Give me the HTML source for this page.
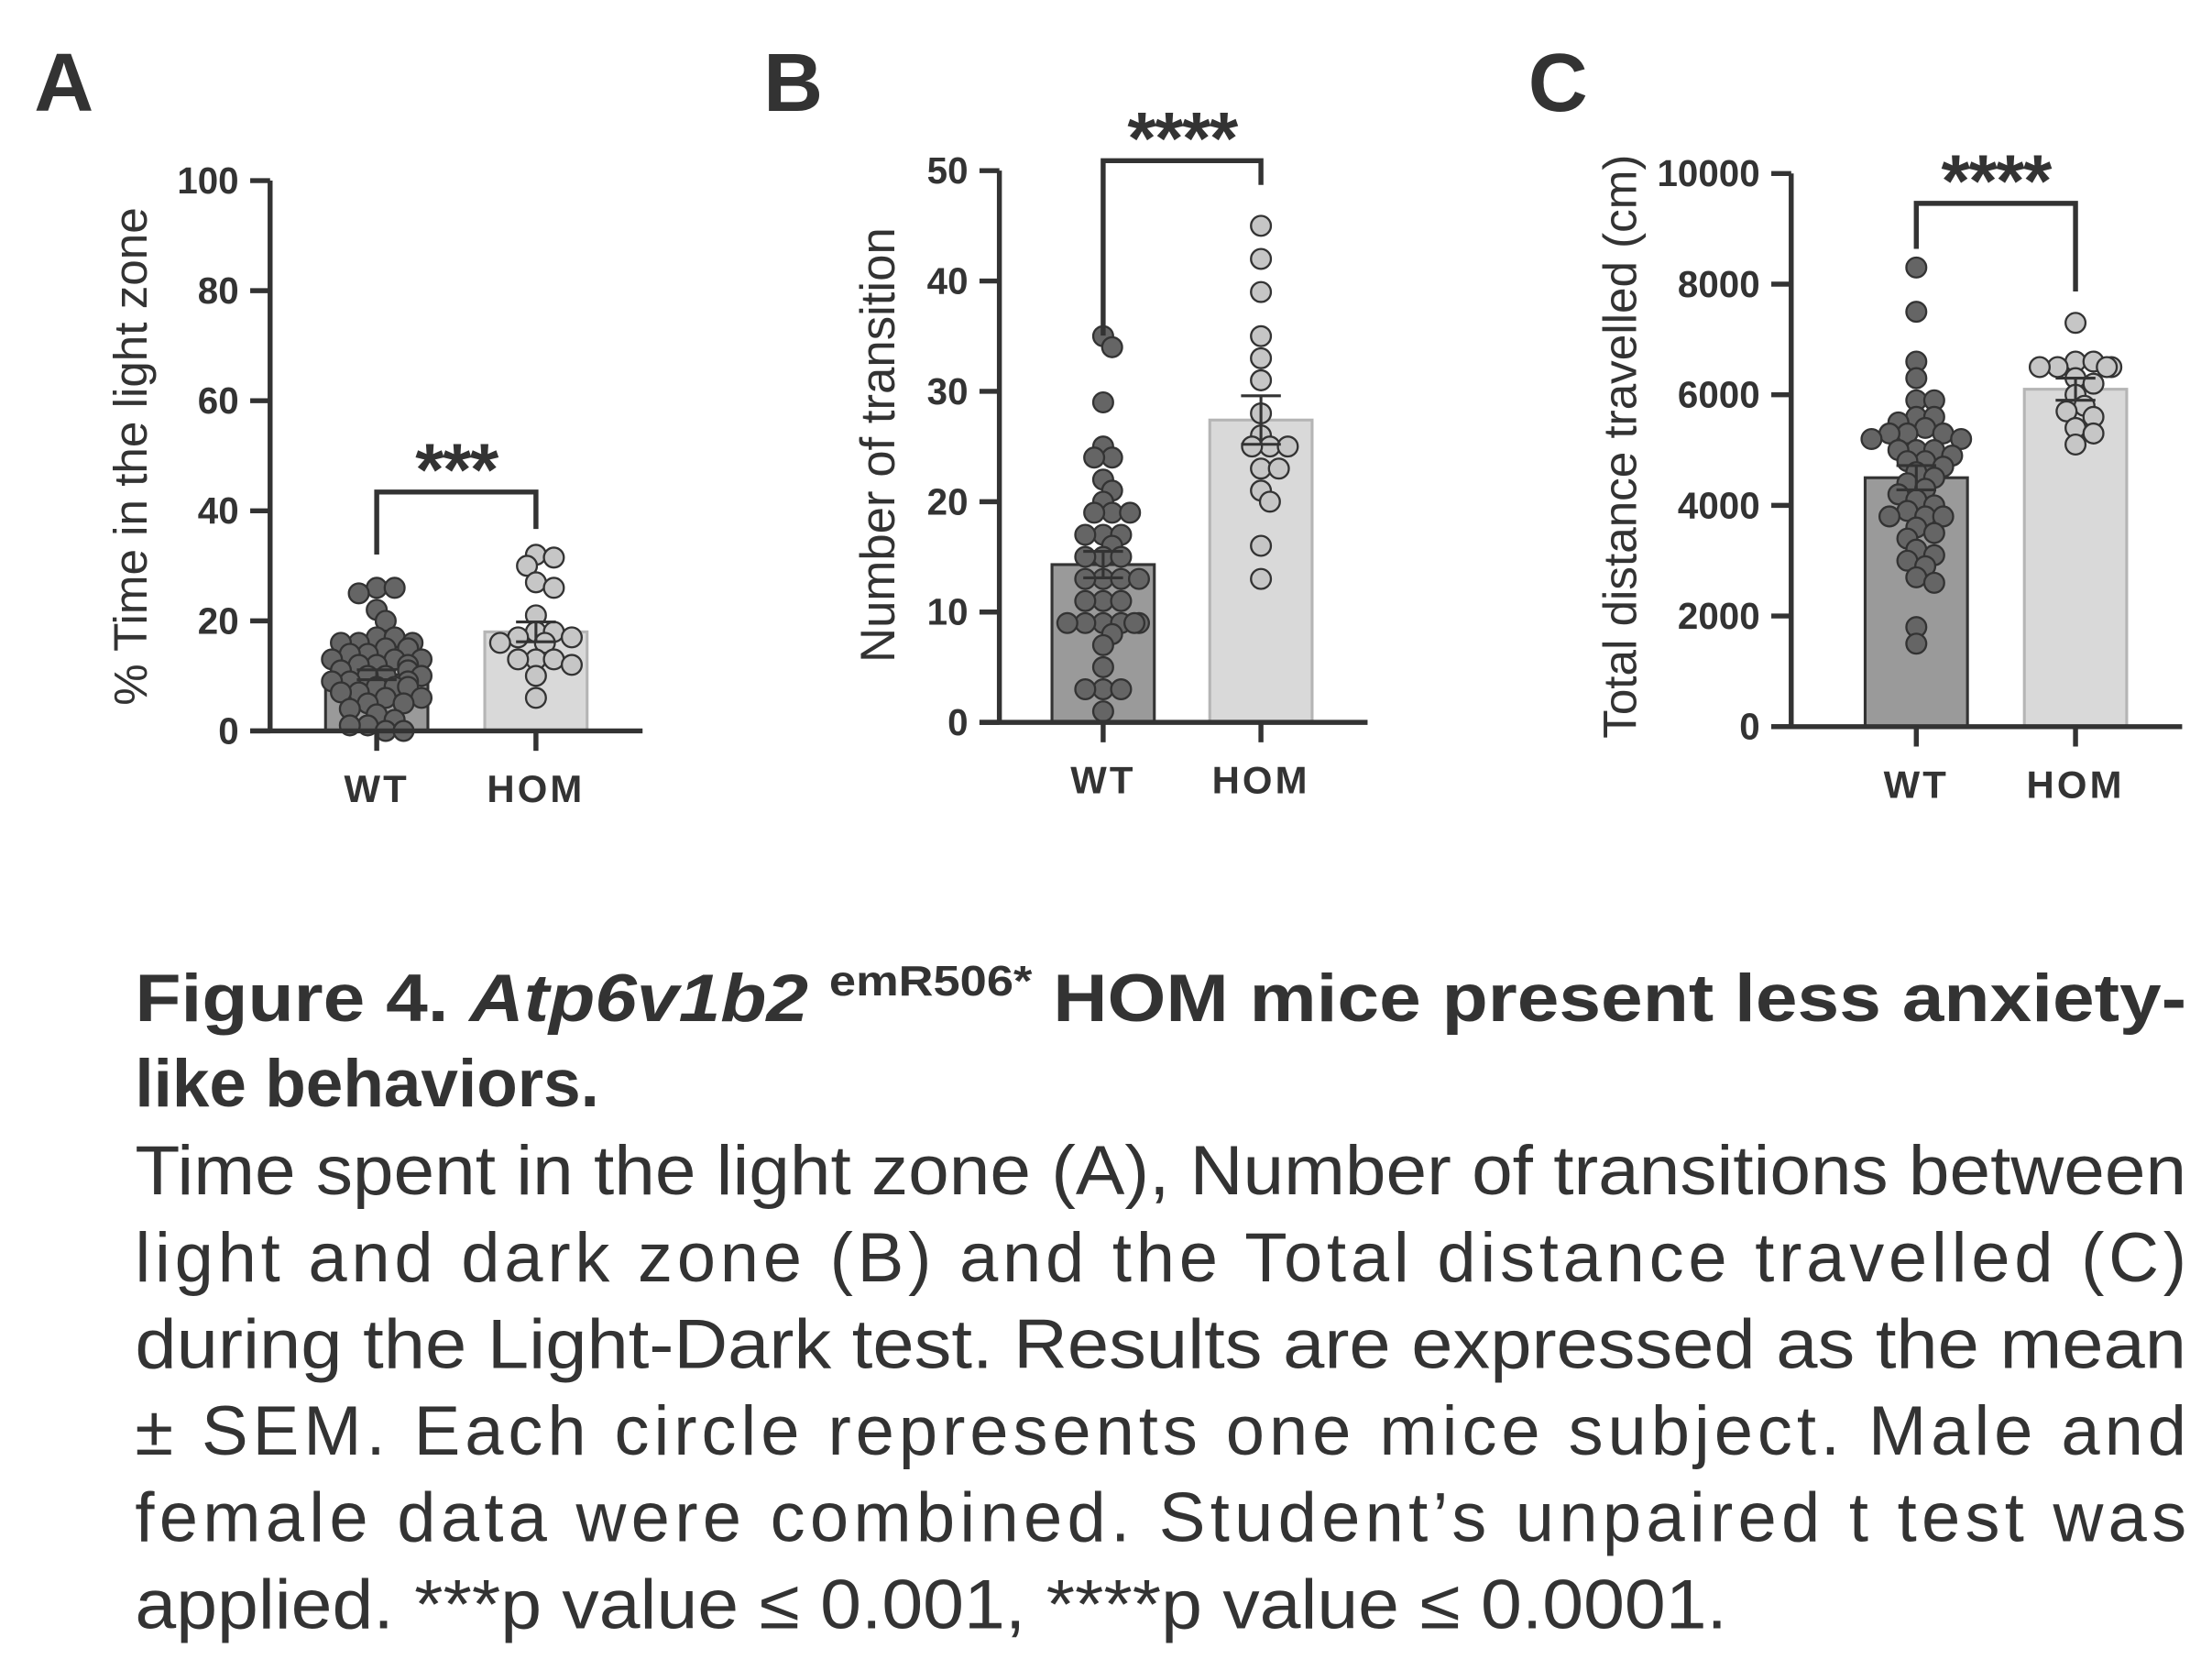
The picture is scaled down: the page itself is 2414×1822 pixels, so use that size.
<!DOCTYPE html>
<html><head><meta charset="utf-8"><style>
html,body{margin:0;padding:0;background:#fff}
svg{display:block}
text{font-family:"Liberation Sans",Arial,sans-serif;fill:#333}
</style></head><body>
<svg id="fig" width="2414" height="1822" viewBox="0 0 1556 1174.4" xmlns="http://www.w3.org/2000/svg">
<rect width="1556" height="1175" fill="#fff"/>
<g id="charts"></g>
<g>
<text x="95" y="718" font-size="47" font-weight="bold" textLength="1443" lengthAdjust="spacingAndGlyphs">Figure 4. <tspan font-style="italic">Atp6v1b2</tspan> <tspan font-size="30" dy="-18">emR506*</tspan><tspan dy="18"> HOM mice present less anxiety-</tspan></text>
<text x="95" y="778" font-size="47" font-weight="bold">like behaviors.</text>
<text x="95" y="840" font-size="49" textLength="1443" lengthAdjust="spacingAndGlyphs">Time spent in the light zone (A), Number of transitions between</text>
<text x="95" y="901" font-size="49" textLength="1443" lengthAdjust="spacing">light and dark zone (B) and the Total distance travelled (C)</text>
<text x="95" y="962" font-size="49" textLength="1443" lengthAdjust="spacingAndGlyphs">during the Light-Dark test. Results are expressed as the mean</text>
<text x="95" y="1023" font-size="49" textLength="1443" lengthAdjust="spacing">± SEM. Each circle represents one mice subject. Male and</text>
<text x="95" y="1084" font-size="49" textLength="1443" lengthAdjust="spacing">female data were combined. Student’s unpaired t test was</text>
<text x="95" y="1145" font-size="49" textLength="1120" lengthAdjust="spacingAndGlyphs">applied.  ***p value ≤ 0.001, ****p value ≤ 0.0001.</text>
</g>
</svg>
<script>
const groups = ["WT", "HOM"];
const aWT = [26,26,25,22,20,17,17,16,16,16,15,15,15,14,14,13,13,13,12,12,12,11,11,11,10,10,10,9,9,9,8,8,8,7,7,6,6,5,5,4,3,2,1,1,0,0];
const aHOM = [32,30,31.5,27,26,21,18,18,17,17,16,16,13,12,13,13,10,6];
const aMeans = [10.2, 18];
const aSEM = [0.9, 1.8];
const bWT = [35,34,29,25,24,24,22,21,20,19,19,19,17,17,17,16,15,15,15,13,13,13,13,11,11,11,9,9,9,9,9,9,8,7,5,3,3,3,1];
const bHOM = [45,42,39,35,33,31,28,26,25,25,25,23,23,21,20,16,13];
const bMeans = [14.3, 27.4];
const bSEM = [1.2, 2.2];
const cWT = [8300,7500,6600,6300,5900,5900,5600,5500,5600,5200,5300,5200,5300,5400,5000,4800,5000,4900,4700,4800,4600,4400,4300,4200,4100,3800,3800,3900,3800,3600,3500,3400,3200,3100,3000,2900,2700,2600,1800,1500,5300,5000,4500,4000];
const cHOM = [7300,6600,6500,6500,6600,6500,6500,6300,6200,6000,5800,5700,5600,5400,5300,5100];
const cMeans = [4500, 6100];
const cSEM = [220, 200];
const aTicks = ["0","20","40","60","80","100"];
const bTicks = ["0","10","20","30","40","50"];
const cTicks = ["0","2000","4000","6000","8000","10000"];

const NS = "http://www.w3.org/2000/svg";
const root = document.getElementById("charts");
function mk(tag, attrs, parent){const e=document.createElementNS(NS,tag);for(const k in attrs)e.setAttribute(k,attrs[k]);(parent||root).appendChild(e);return e;}

function panel(cfg){
  const g = mk("g",{});
  
  
  const max = +cfg.ticks[cfg.ticks.length-1];
  const y = v => cfg.y0 - (v/max)*(cfg.y0-cfg.yTop);
  const xc = [cfg.cx0, cfg.cx1];
  const lt = mk("text",{x:cfg.letterX,y:78,"font-size":58,"font-weight":"bold"},g);
  lt.textContent = cfg.letter;
  
  
  const fills=["#9a9a9a","#d9d9d9"], strokes=["#333","#b5b5b5"];
  for(let i=0;i<2;i++){
    const r = mk("rect",{x:xc[i]-36,y:y(cfg.means[i]),width:72,height:cfg.y0-y(cfg.means[i]),fill:fills[i],stroke:strokes[i],"stroke-width":2},g);
    
    
  }
  const sets=[cfg.wt,cfg.hom], dfill=["#656565","#c6c6c6"], R=7;
  for(let i=0;i<2;i++){
    const placed=[];
    const vals=[...sets[i]].sort((a,b)=>b-a);
    for(const v of vals){
      const py=y(v); let px=xc[i];
      for(let k=0;k<40;k++){
        const off = (k%2?1:-1)*Math.ceil(k/2)*R*0.9;
        const tx=xc[i]+off;
        if(Math.abs(off)>36){px=xc[i]+(k%2?1:-1)*(k*2%36);break;}
        if(placed.every(p=>Math.hypot(p[0]-tx,p[1]-py)>=R*1.3)){px=tx;break;}
      }
      placed.push([px,py]);
      const c = mk("circle",{cx:px,cy:py,r:R,fill:dfill[i],stroke:"#333","stroke-width":1.5},g);
      
      
    }
  }
  for(let i=0;i<2;i++){
    const yt=y(cfg.means[i]+cfg.sem[i]), yb=y(cfg.means[i]-cfg.sem[i]);
    const e = mk("path",{d:`M${xc[i]},${yb}V${yt}M${xc[i]-14},${yt}H${xc[i]+14}M${xc[i]-14},${yb}H${xc[i]+14}`,stroke:"#333","stroke-width":2,fill:"none"},g);
    
    
  }
  const ax = mk("path",{d:`M${cfg.ax},${cfg.yTop}V${cfg.y0}M${cfg.ax-14},${cfg.y0}H${cfg.xEnd}`,stroke:"#333","stroke-width":3.5,fill:"none"},g);
  
  
  cfg.ticks.forEach(t=>{
    const ty=y(+t);
    mk("line",{x1:cfg.ax-14,x2:cfg.ax,y1:ty,y2:ty,stroke:"#333","stroke-width":3.5},g);
    const tl = mk("text",{x:cfg.ax-22,y:ty+9,"font-size":26,"font-weight":"bold","text-anchor":"end"},g);
    tl.textContent=t;
    
    
  });
  for(let i=0;i<2;i++){
    mk("line",{x1:xc[i],x2:xc[i],y1:cfg.y0,y2:cfg.y0+14,stroke:"#333","stroke-width":3.5},g);
    const xl = mk("text",{x:xc[i],y:cfg.y0+50,"font-size":27,"font-weight":"bold","text-anchor":"middle","letter-spacing":"2"},g);
    xl.textContent=groups[i];
    
    
  }
  const yl = mk("text",{x:0,y:0,"font-size":cfg.ylfs,"text-anchor":"middle",transform:`translate(${cfg.ylx},${cfg.yly}) rotate(-90)`},g);
  yl.textContent=cfg.ylabel;
  
  
  const br = mk("path",{d:`M${xc[0]},${cfg.bl}V${cfg.bt}H${xc[1]}V${cfg.br}`,stroke:"#333","stroke-width":3.5,fill:"none"},g);
  
  
  const st = mk("text",{x:(xc[0]+xc[1])/2,y:cfg.bt+2,"font-size":52,"font-weight":"bold","text-anchor":"middle","letter-spacing":"-1"},g);
  st.textContent=cfg.stars;
  
  
}

panel({name:"panel-a",letter:"A",letterX:24,ax:190,yTop:127,y0:514,xEnd:452,cx0:265,cx1:377,ticks:aTicks,wt:aWT,hom:aHOM,means:aMeans,sem:aSEM,ylabel:"% Time in the light zone",ylfs:33,ylx:103,yly:321,bt:346,bl:390,br:372,stars:"***"});
panel({name:"panel-b",letter:"B",letterX:537,ax:703,yTop:120,y0:508,xEnd:962,cx0:776,cx1:887,ticks:bTicks,wt:bWT,hom:bHOM,means:bMeans,sem:bSEM,ylabel:"Number of transition",ylfs:34,ylx:629,yly:313,bt:113,bl:236,br:130,stars:"****"});
panel({name:"panel-c",letter:"C",letterX:1075,ax:1260,yTop:122,y0:511,xEnd:1535,cx0:1348,cx1:1460,ticks:cTicks,wt:cWT,hom:cHOM,means:cMeans,sem:cSEM,ylabel:"Total distance travelled (cm)",ylfs:33,ylx:1151,yly:314,bt:143,bl:175,br:205,stars:"****"});
</script>
</body></html>
